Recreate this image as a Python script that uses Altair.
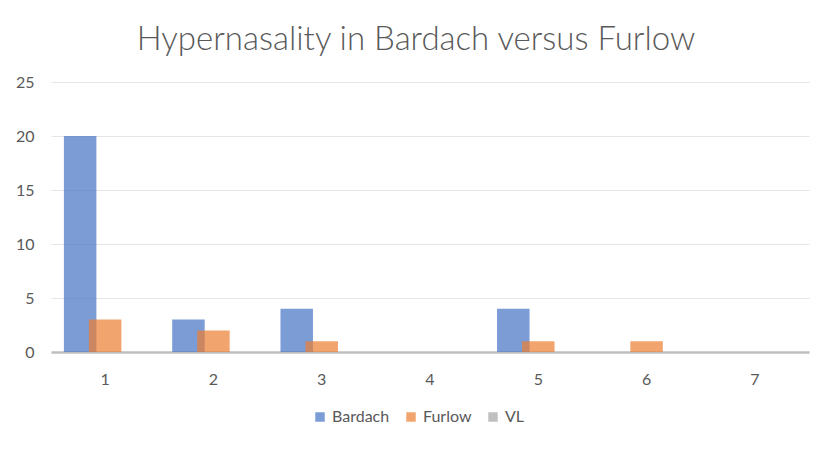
import altair as alt
import pandas as pd

categories = ["1", "2", "3", "4", "5", "6", "7"]
series = ["Bardach", "Furlow", "VL"]
bardach = [20, 3, 4, 0, 4, 0, 0]
furlow = [3, 2, 1, 0, 1, 1, 0]
vl = [0, 0, 0, 0, 0, 0, 0]
colors = ["#4472C4", "#ED7D31", "#A5A5A5"]
y_ticks = [0, 5, 10, 15, 20, 25]

rows = []
for name, vals in zip(series, [bardach, furlow, vl]):
    for c, v in zip(categories, vals):
        rows.append({"cat": c, "series": name, "value": v})
df = pd.DataFrame(rows)

FONT = "Lato"
TXT = "#595959"

chart = alt.Chart(df).mark_bar(width=32.5, opacity=0.7).encode(
    x=alt.X("cat:N", sort=categories, title=None,
            scale=alt.Scale(paddingInner=0.3075, paddingOuter=0.15375),
            axis=alt.Axis(labelAngle=0, ticks=False, domainColor="#BFBFBF",
                          domainWidth=2.5, labelPadding=19, labelFontSize=16,
                          labelColor=TXT, labelFont=FONT, grid=False)),
    xOffset=alt.XOffset("series:N", sort=series,
                        scale=alt.Scale(paddingInner=0, paddingOuter=0)),
    y=alt.Y("value:Q", title=None,
            scale=alt.Scale(domain=[0, 25], nice=False),
            axis=alt.Axis(values=y_ticks, ticks=False, domain=False,
                          gridColor="#E6E6E6", gridWidth=1, labelPadding=17,
                          labelFontSize=16, labelColor=TXT, labelFont=FONT)),
    color=alt.Color("series:N", sort=series,
                    scale=alt.Scale(domain=series, range=colors),
                    legend=alt.Legend(title=None, orient="none", direction="horizontal",
                                      legendX=261, legendY=327, symbolType="square",
                                      symbolSize=90, symbolOpacity=0.7,
                                      symbolStrokeWidth=0,
                                      labelFontSize=16, labelColor=TXT, labelFont=FONT,
                                      columnPadding=13, labelOffset=4)),
    order=alt.Order("order:Q"),
).transform_calculate(
    order="datum.series == 'Bardach' ? 0 : (datum.series == 'Furlow' ? 1 : 2)"
).properties(
    width=758, height=270,
    title=alt.Title("Hypernasality in Bardach versus Furlow", fontSize=33,
                    font=FONT, fontWeight=300, color=TXT, anchor="middle",
                    offset=17, dx=-14),
    autosize=alt.AutoSizeParams(type="none"),
    padding={"left": 43, "top": 74, "right": 16, "bottom": 89},
).configure(background="white").configure_view(stroke=None)

chart.save("out.html", embed_options={"renderer": "svg", "actions": False})
